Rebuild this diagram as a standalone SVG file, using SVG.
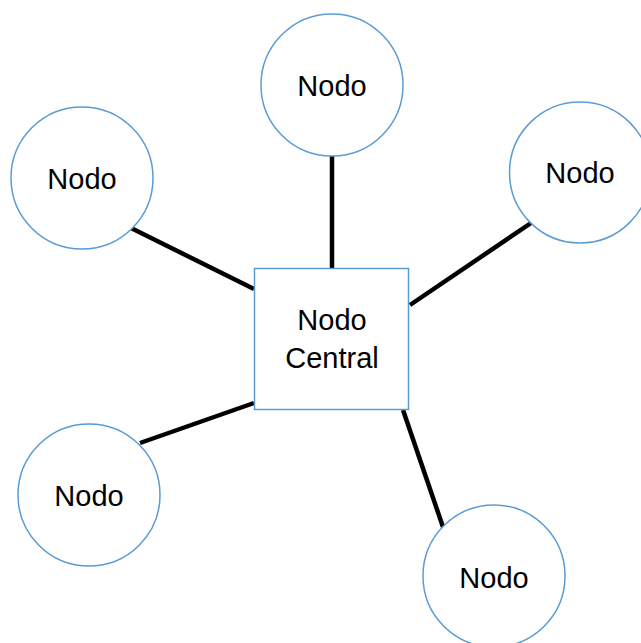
<svg xmlns="http://www.w3.org/2000/svg" width="641" height="643" viewBox="0 0 641 643">
<style>
.node{fill:#fff;stroke:#5b9bd5;stroke-width:1.5}
.lbl{font-family:"Liberation Sans",Arial,sans-serif;font-size:29px;fill:#000;text-anchor:middle}
.edge{stroke:#000;stroke-width:4.5;fill:none}
</style>
<rect width="641" height="643" fill="#fff"/>
<g id="connectors">
<line class="edge" x1="332" y1="156" x2="332" y2="268"/>
<line class="edge" x1="131" y1="228" x2="254" y2="289"/>
<line class="edge" x1="410" y1="305" x2="531" y2="223"/>
<line class="edge" x1="140" y1="443" x2="254" y2="403"/>
<line class="edge" x1="403" y1="410" x2="443" y2="527"/>
</g>
<g id="central">
<rect class="node" x="254.5" y="268.5" width="154" height="141"/>
<text class="lbl" x="332" y="330">Nodo</text>
<text class="lbl" x="332" y="368">Central</text>
</g>
<g id="n-top">
<circle class="node" cx="332" cy="85" r="71"/>
<text class="lbl" x="332" y="96">Nodo</text>
</g>
<g id="n-left">
<circle class="node" cx="82" cy="178" r="71"/>
<text class="lbl" x="82" y="189">Nodo</text>
</g>
<g id="n-right">
<circle class="node" cx="580" cy="172.5" r="70.5"/>
<text class="lbl" x="580" y="183">Nodo</text>
</g>
<g id="n-bottomleft">
<circle class="node" cx="89" cy="495" r="71"/>
<text class="lbl" x="89" y="506">Nodo</text>
</g>
<g id="n-bottomright">
<circle class="node" cx="494" cy="576" r="71"/>
<text class="lbl" x="494" y="588">Nodo</text>
</g>
</svg>
